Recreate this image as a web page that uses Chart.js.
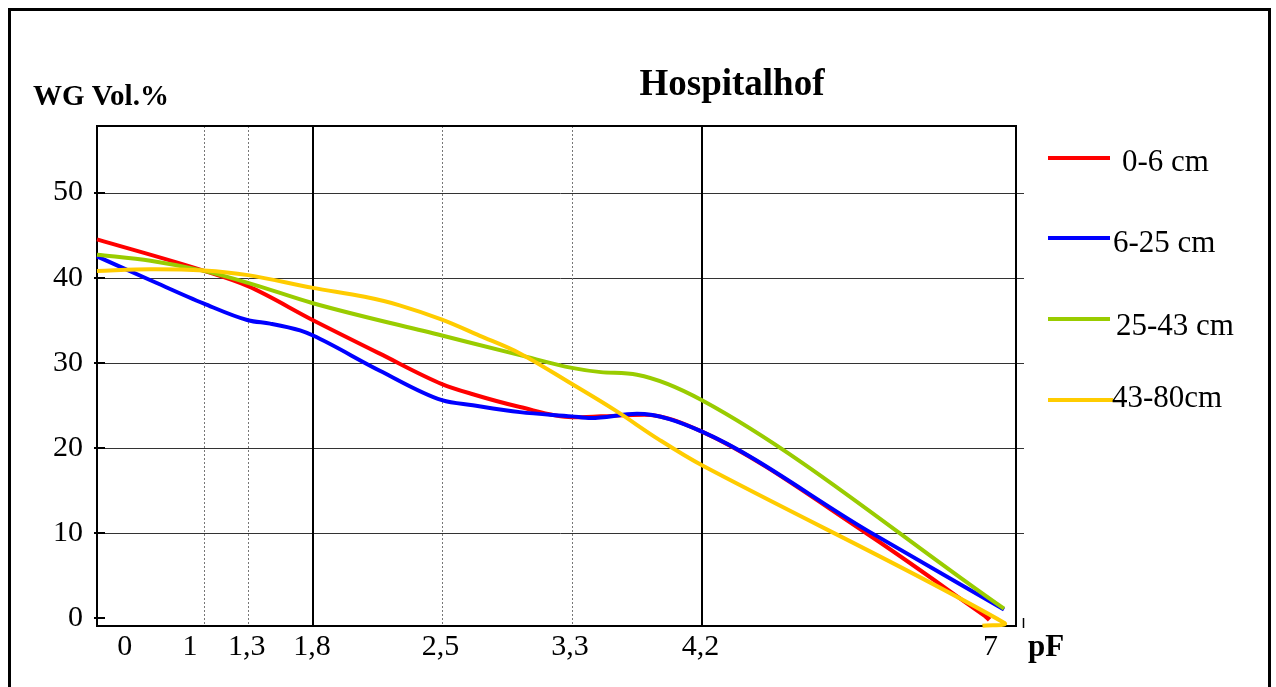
<!DOCTYPE html>
<html>
<head>
<meta charset="utf-8">
<title>Hospitalhof</title>
<script src="https://cdn.jsdelivr.net/npm/chart.js@4.4.1/dist/chart.umd.min.js"></script>
<style>
    html, body { margin: 0; padding: 0; background: #fff; }
    body { width: 1276px; height: 687px; overflow: hidden; position: relative; }
    #frame { position: absolute; left: 8px; top: 8px; width: 1257px; height: 700px; border: 3px solid #000; }
    #chart { position: absolute; left: 0; top: 0; }
</style>
</head>
<body>
<div id="frame"></div>
<canvas id="chart" width="1276" height="687"></canvas>
<script>
/* ============================================
   Hospitalhof - water content (WG Vol.%) vs pF
============================================ */

// pF axis as printed: tick values, labels, and where each tick sits on the stretched axis
const pfTicks = [0, 1, 1.3, 1.8, 2.5, 3.3, 4.2, 7];
const pfLabels = ['0', '1', '1,3', '1,8', '2,5', '3,3', '4,2', '7'];
const pfSlots = [0, 1, 1.411, 2.019, 3.224, 4.439, 5.654, 8.477];
const labelSlots = [0.26, 0.87, 1.40, 2.01, 3.21, 4.42, 5.64, 8.35];
const xEnd = 8.589;

// WG Vol.% axis
const yTicks = [0, 10, 20, 30, 40, 50];
const yMin = -0.94;
const yMax = 57.83;

// Soil layers
const layerNames = ['0-6 cm', '6-25 cm', '25-43 cm', '43-80cm'];
const layerColors = ['#ff0000', '#0000ff', '#99cc00', '#ffcc00'];

// 0-6 cm
const pf06 = [0, 1, 1.3, 1.8, 2.16, 2.5, 2.69, 2.98, 3.3, 3.5, 3.8, 4.2, 5.73, 6.85];
const wg06 = [44.5, 40.8, 39.0, 35.0, 31.1, 27.5, 26.3, 24.8, 23.6, 23.7, 23.9, 21.9, 9.9, 0];

// 6-25 cm
const pf625 = [0, 0.5, 1, 1.3, 1.47, 1.7, 1.8, 2.16, 2.5, 2.69, 2.98, 3.3, 3.43, 3.75, 4.2, 5.73, 7];
const wg625 = [42.5, 39.7, 36.95, 35.0, 34.6, 33.8, 33.2, 29.1, 25.6, 25.0, 24.2, 23.7, 23.5, 24.0, 21.9, 10.3, 1.0];

// 25-43 cm
const pf2543 = [0, 0.5, 1, 1.3, 1.8, 2.5, 2.98, 3.3, 3.5, 3.75, 4.2, 7];
const wg2543 = [42.7, 42.0, 40.8, 39.4, 37.0, 33.2, 30.9, 29.4, 28.9, 28.6, 25.6, 1.1];

// 43-80 cm (the curve hooks back at the end)
const pf4380 = [0, 0.5, 1, 1.3, 1.8, 2.08, 2.27, 2.5, 2.73, 2.98, 3.3, 3.6, 3.9, 4.2, 7, 6.8];
const wg4380 = [40.8, 41.0, 40.85, 40.3, 38.8, 37.75, 36.75, 35.07, 33.2, 31.1, 27.5, 24.4, 21.0, 17.95, -0.55, -0.9];

/**
 * Map a pF value onto the stretched axis
 */
function pfToSlot(pf) {
    let i = 1;
    while (i < pfTicks.length - 1 && pf > pfTicks[i]) i++;
    const t = (pf - pfTicks[i - 1]) / (pfTicks[i] - pfTicks[i - 1]);
    return pfSlots[i - 1] + t * (pfSlots[i] - pfSlots[i - 1]);
}

function toPoints(pfs, vals) {
    return pfs.map((pf, i) => ({ x: pfToSlot(pf), y: vals[i] }));
}

const serif = "'Liberation Serif', 'Times New Roman', serif";

/**
 * Grid, axis box and tick marks
 */
const gridPlugin = {
    id: 'pfGrid',
    beforeDatasetsDraw(chart) {
        const { ctx, chartArea: a, scales: { x, y } } = chart;
        ctx.save();

        // horizontal lines (running a little past the box)
        ctx.strokeStyle = '#333';
        ctx.lineWidth = 1;
        yTicks.filter(v => v > 0).forEach(v => {
            const py = Math.round(y.getPixelForValue(v)) + 0.5;
            ctx.beginPath();
            ctx.moveTo(a.left, py);
            ctx.lineTo(a.right + 8, py);
            ctx.stroke();
        });

        // dotted verticals
        ctx.strokeStyle = '#777';
        ctx.setLineDash([2, 2]);
        [1, 1.3, 2.5, 3.3].forEach(pf => {
            const px = Math.round(x.getPixelForValue(pfToSlot(pf))) + 0.5;
            ctx.beginPath();
            ctx.moveTo(px, a.top);
            ctx.lineTo(px, a.bottom);
            ctx.stroke();
        });
        ctx.setLineDash([]);

        // solid verticals
        ctx.strokeStyle = '#000';
        ctx.lineWidth = 2;
        [1.8, 4.2].forEach(pf => {
            const px = Math.round(x.getPixelForValue(pfToSlot(pf)));
            ctx.beginPath();
            ctx.moveTo(px, a.top);
            ctx.lineTo(px, a.bottom);
            ctx.stroke();
        });

        // plot box
        ctx.strokeRect(a.left, a.top, a.right - a.left, a.bottom - a.top);

        // y tick marks crossing the axis
        yTicks.forEach(v => {
            const py = Math.round(y.getPixelForValue(v));
            ctx.beginPath();
            ctx.moveTo(a.left - 3, py);
            ctx.lineTo(a.left + 8, py);
            ctx.stroke();
        });

        // small end mark on the pF axis
        ctx.lineWidth = 1.5;
        ctx.beginPath();
        ctx.moveTo(a.right + 7.5, a.bottom - 8);
        ctx.lineTo(a.right + 7.5, a.bottom + 2);
        ctx.stroke();

        ctx.restore();
    }
};

/**
 * Titles and the legend on the right
 */
const textPlugin = {
    id: 'pfText',
    afterDraw(chart) {
        const { ctx } = chart;
        ctx.save();
        ctx.fillStyle = '#000';
        ctx.textBaseline = 'alphabetic';

        ctx.font = 'bold 37px ' + serif;
        ctx.textAlign = 'center';
        ctx.fillText('Hospitalhof', 732, 95);

        ctx.textAlign = 'left';
        ctx.font = 'bold 29px ' + serif;
        ctx.fillText('WG Vol.%', 33, 105);

        ctx.font = 'bold 31px ' + serif;
        ctx.fillText('pF', 1028, 656);

        // legend
        const lineY = [158, 238, 319, 400];
        const textX = [1122, 1113, 1116, 1112];
        const textY = [171, 252, 335, 407];
        ctx.font = '31px ' + serif;
        chart.data.datasets.forEach((ds, i) => {
            ctx.strokeStyle = ds.borderColor;
            ctx.lineWidth = 4;
            ctx.beginPath();
            ctx.moveTo(1048, lineY[i]);
            ctx.lineTo(i === 3 ? 1113 : 1110, lineY[i]);
            ctx.stroke();
            ctx.fillStyle = '#000';
            ctx.fillText(ds.label, textX[i], textY[i]);
        });

        ctx.restore();
    }
};

function makeDataset(i, pfs, vals, extra) {
    return Object.assign({
        label: layerNames[i],
        data: toPoints(pfs, vals),
        borderColor: layerColors[i],
        backgroundColor: layerColors[i],
        borderWidth: 4,
        pointRadius: 0,
        fill: false,
        cubicInterpolationMode: 'monotone',
        clip: 12,
    }, extra);
}

const redPointRadius = pf06.map((_, i) => (i === pf06.length - 1 ? 3.5 : 0));

new Chart(document.getElementById('chart'), {
    type: 'line',
    data: {
        datasets: [
            makeDataset(0, pf06, wg06, {
                order: 4,
                pointRadius: redPointRadius,
                pointStyle: 'rectRot',
                pointBorderWidth: 0,
            }),
            makeDataset(1, pf625, wg625, { order: 3 }),
            makeDataset(2, pf2543, wg2543, { order: 2 }),
            makeDataset(3, pf4380, wg4380, {
                order: 1,
                cubicInterpolationMode: 'default',
                tension: 0.35,
            }),
        ]
    },
    options: {
        responsive: false,
        animation: false,
        events: [],
        layout: {
            padding: { top: 126, right: 260, left: 0, bottom: 0 }
        },
        plugins: {
            legend: { display: false },
            tooltip: { enabled: false },
            title: { display: false },
        },
        scales: {
            x: {
                type: 'linear',
                min: 0,
                max: xEnd,
                bounds: 'data',
                grid: { display: false, drawTicks: false },
                border: { display: false },
                ticks: {
                    autoSkip: false,
                    maxRotation: 0,
                    padding: 3,
                    color: '#000',
                    font: { family: serif, size: 30, lineHeight: 1.2 },
                    callback: (value, index) => pfLabels[index],
                },
                afterBuildTicks: (axis) => {
                    axis.ticks = labelSlots.map(v => ({ value: v }));
                },
                afterFit: (axis) => {
                    axis.height = 61;
                },
            },
            y: {
                type: 'linear',
                min: yMin,
                max: yMax,
                bounds: 'data',
                grid: { display: false, drawTicks: false },
                border: { display: false },
                ticks: {
                    padding: 14,
                    color: '#000',
                    font: { family: serif, size: 30 },
                },
                afterBuildTicks: (axis) => {
                    axis.ticks = yTicks.map(v => ({ value: v }));
                },
                afterFit: (axis) => {
                    axis.width = 97;
                },
            },
        },
    },
    plugins: [gridPlugin, textPlugin],
});
</script>
</body>
</html>
